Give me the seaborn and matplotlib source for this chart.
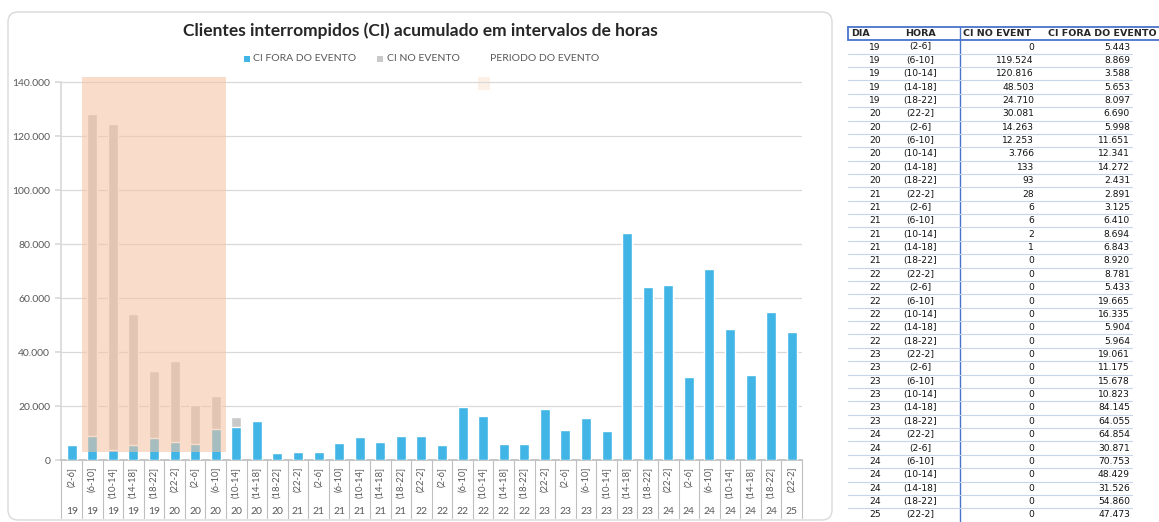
import matplotlib
matplotlib.use("Agg")
import matplotlib.pyplot as plt
import seaborn as sns
import pandas as pd
from matplotlib.patches import Rectangle, FancyBboxPatch

# ---------------- data ----------------
dia = [19, 19, 19, 19, 19, 20, 20, 20, 20, 20, 20, 21, 21, 21, 21, 21, 21,
       22, 22, 22, 22, 22, 22, 23, 23, 23, 23, 23, 23, 24, 24, 24, 24, 24, 24, 25]
hora = ["(2-6]", "(6-10]", "(10-14]", "(14-18]", "(18-22]",
        "(22-2]", "(2-6]", "(6-10]", "(10-14]", "(14-18]", "(18-22]",
        "(22-2]", "(2-6]", "(6-10]", "(10-14]", "(14-18]", "(18-22]",
        "(22-2]", "(2-6]", "(6-10]", "(10-14]", "(14-18]", "(18-22]",
        "(22-2]", "(2-6]", "(6-10]", "(10-14]", "(14-18]", "(18-22]",
        "(22-2]", "(2-6]", "(6-10]", "(10-14]", "(14-18]", "(18-22]",
        "(22-2]"]
ci_no_evento = [0, 119524, 120816, 48503, 24710, 30081, 14263, 12253, 3766, 133, 93,
                28, 6, 6, 2, 1, 0, 0, 0, 0, 0, 0, 0, 0, 0, 0, 0, 0, 0,
                0, 0, 0, 0, 0, 0, 0]
ci_fora_evento = [5443, 8869, 3588, 5653, 8097, 6690, 5998, 11651, 12341, 14272, 2431,
                  2891, 3125, 6410, 8694, 6843, 8920, 8781, 5433, 19665, 16335, 5904, 5964,
                  19061, 11175, 15678, 10823, 84145, 64055, 64854, 30871, 70753, 48429,
                  31526, 54860, 47473]
periodo_evento = [0, 1, 1, 1, 1, 1, 1, 1] + [0] * 28
evento_faixa = [3000, 142000]   # lower / upper limit of the event band
y_ticks = [0, 20000, 40000, 60000, 80000, 100000, 120000, 140000]

titulo = "Clientes interrompidos (CI) acumulado em intervalos de horas"
leg_labels = ["CI FORA DO EVENTO", "CI NO EVENTO", "PERIODO DO EVENTO"]
tab_headers = ["DIA", "HORA", "CI NO EVENT", "CI FORA DO EVENTO"]

# ---------------- styles ----------------
BLUE = "#41B5E6"
GRAY = "#C9C9C9"
PEACH = "#F6C4A2"
TXT = "#595959"
W, H = 1159, 522

def fmt(v):
    return f"{v:,}".replace(",", ".")

def px(x, y):
    return x / W, 1 - y / H

sns.set_theme(style="white")
plt.rcParams["font.family"] = ["Lato", "DejaVu Sans"]

df = pd.DataFrame({
    "cat": [f"{d} {h}" for d, h in zip(dia, hora)],
    "fora": ci_fora_evento,
    "total": [a + b for a, b in zip(ci_fora_evento, ci_no_evento)],
})

fig = plt.figure(figsize=(W / 100, H / 100), dpi=100)

# chart panel border
panel = FancyBboxPatch((8 / 100, (H - 520) / 100), 824 / 100, 508 / 100,
                       boxstyle="round,pad=0,rounding_size=0.1",
                       transform=fig.dpi_scale_trans, facecolor="none",
                       edgecolor="#D9D9D9", linewidth=1.0, zorder=-1)
fig.patches.append(panel)

ax = fig.add_axes([61.4 / W, 62 / H, (802 - 61.4) / W, (460 - 68.8) / H])
ax.set_facecolor("none")
ax.set_zorder(2)

sns.barplot(data=df, x="cat", y="total", color=GRAY, width=0.49,
            saturation=1, ax=ax, zorder=2)
sns.barplot(data=df, x="cat", y="fora", color=BLUE, width=0.49,
            saturation=1, ax=ax, zorder=3)

# event band
idx = [i for i, f in enumerate(periodo_evento) if f]
first, last = min(idx), max(idx)
ax.bar((first + last) / 2, evento_faixa[1] - evento_faixa[0],
       width=last - first + 1, bottom=evento_faixa[0],
       color=PEACH, alpha=0.56, linewidth=0, zorder=4, clip_on=False)

n = len(dia)
ax.set_xlim(-0.5, n - 0.5)
ax.set_ylim(0, 145000)
ax.set_yticks(y_ticks)
ax.set_yticklabels([fmt(v) for v in y_ticks], color=TXT, fontsize=7.5)
ax.yaxis.grid(True, color="#D9D9D9", linewidth=0.9, zorder=0)
ax.set_axisbelow(True)
ax.tick_params(axis="y", length=4, color="#D9D9D9", pad=4, left=True)
ax.set_xticks([])
ax.set_xlabel("")
ax.set_ylabel("")
for s in ["top", "right"]:
    ax.spines[s].set_visible(False)
ax.spines["left"].set_color("#D9D9D9")
ax.spines["left"].set_bounds(0, y_ticks[-1])
ax.spines["bottom"].set_color("#BFBFBF")

# multi-level category axis
tr = ax.get_xaxis_transform()
ah = (460 - 68.8)
for i, (d, h) in enumerate(zip(dia, hora)):
    ax.text(i, -7 / ah, h, rotation=90, ha="center", va="top", fontsize=6.8,
            color=TXT, transform=tr, clip_on=False)
    ax.text(i, -51 / ah, str(d), ha="center", va="center", fontsize=7.5,
            color=TXT, transform=tr, clip_on=False)
for i in range(n + 1):
    ax.plot([i - 0.5, i - 0.5], [0, -58 / ah], color="#BFBFBF", lw=0.8,
            transform=tr, clip_on=False)

# title & legend
fig.text(*px(420, 31), titulo, ha="center", va="center", fontsize=12.5,
         fontweight="bold", color="#262626")
fig.patches.append(Rectangle(px(244, 62), 6 / W, 6 / H, transform=fig.transFigure,
                             facecolor=BLUE, edgecolor="none"))
fig.text(*px(253, 58.5), leg_labels[0], ha="left", va="center", fontsize=7.5, color=TXT)
fig.patches.append(Rectangle(px(377, 62), 6 / W, 6 / H, transform=fig.transFigure,
                             facecolor=GRAY, edgecolor="none"))
fig.text(*px(387, 58.5), leg_labels[1], ha="left", va="center", fontsize=7.5, color=TXT)
fig.text(*px(490, 58.5), leg_labels[2], ha="left", va="center", fontsize=7.5, color=TXT)
fig.patches.append(Rectangle(px(478, 90), 12 / W, 13 / H, transform=fig.transFigure,
                             facecolor=PEACH, alpha=0.25, edgecolor="none"))

# ---------------- table ----------------
TBLUE = "#4A74C9"
LINE = "#C8D4EA"
tfont = ["DejaVu Sans"]
hy = 33.5
fig.text(*px(851, hy), tab_headers[0], ha="left", va="center", fontsize=6.8,
         fontweight="bold", family=tfont)
fig.text(*px(920, hy), tab_headers[1], ha="center", va="center", fontsize=6.8,
         fontweight="bold", family=tfont)
fig.text(*px(963, hy), tab_headers[2], ha="left", va="center", fontsize=6.8,
         fontweight="bold", family=tfont)
fig.text(*px(1157, hy), tab_headers[3], ha="right", va="center", fontsize=6.8,
         fontweight="bold", family=tfont)
fig.lines.append(plt.Line2D([848 / W, 1159 / W], [1 - 27 / H, 1 - 27 / H],
                            transform=fig.transFigure, color=TBLUE, lw=1.3))
fig.lines.append(plt.Line2D([848 / W, 1159 / W], [1 - 40 / H, 1 - 40 / H],
                            transform=fig.transFigure, color=TBLUE, lw=1.3))
fig.lines.append(plt.Line2D([848 / W, 848 / W], [1 - 27 / H, 1 - 40 / H],
                            transform=fig.transFigure, color=TBLUE, lw=1.3))
fig.lines.append(plt.Line2D([959.5 / W, 959.5 / W], [1 - 27 / H, 0],
                            transform=fig.transFigure, color=TBLUE, lw=1.0))
step = 13.37
for i in range(n):
    y = 47 + i * step
    fig.text(*px(875, y), str(dia[i]), ha="center", va="center", fontsize=6.6,
             family=tfont, color="#111111")
    fig.text(*px(920, y), hora[i], ha="center", va="center", fontsize=6.6,
             family=tfont, color="#111111")
    fig.text(*px(1034, y), fmt(ci_no_evento[i]), ha="right", va="center",
             fontsize=6.6, family=tfont, color="#111111")
    fig.text(*px(1130, y), fmt(ci_fora_evento[i]), ha="right", va="center",
             fontsize=6.6, family=tfont, color="#111111")
    yl = y + step / 2
    fig.lines.append(plt.Line2D([848 / W, 1132 / W], [1 - yl / H, 1 - yl / H],
                                transform=fig.transFigure, color=LINE, lw=0.8))

fig.savefig("out.png", dpi=100)
